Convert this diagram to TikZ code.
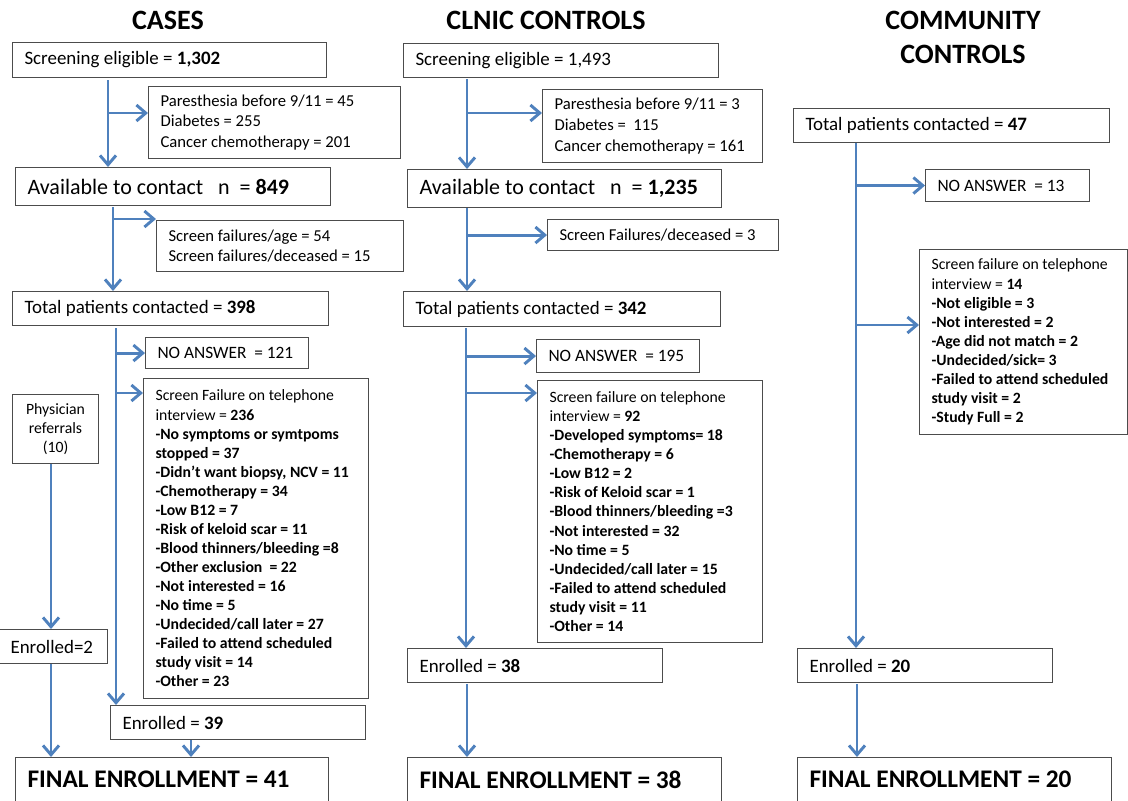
\documentclass[tikz,border=0pt]{standalone}
\usepackage{fontspec}
\setmainfont{Carlito}
\usetikzlibrary{arrows.meta}
\definecolor{flowblue}{RGB}{79,129,189}

\tikzset{
  box/.style={draw=black!70, line width=0.8pt, anchor=north west, inner xsep=9pt, inner ysep=0pt, align=left,
    execute at begin node={\spaceskip=0pt\xspaceskip=0pt}},
  sz/.style 2 args={minimum width=#1*0.75pt, minimum height=#2*0.75pt, text width=#1*0.75pt-18pt},
  flow/.style={flowblue, line width=2.2pt, -{Straight Barb[length=7pt,width=12pt]}},
  head/.style={font=\fontsize{21}{25.5}\selectfont\bfseries, align=center},
  big/.style={font=\fontsize{14.2}{17}\selectfont},
  avail/.style={font=\fontsize{16.5}{20}\selectfont},
  final/.style={font=\fontsize{19}{23}\selectfont\bfseries},
  noans/.style={font=\fontsize{13}{16}\selectfont},
  mid/.style={font=\fontsize{12.5}{15.4}\selectfont},
  list/.style={font=\fontsize{11.8}{14.3}\selectfont}
}

\begin{document}
\begin{tikzpicture}[x=0.75pt, y=-0.75pt]
    \useasboundingbox (0,0) rectangle (1128,800);

    % Column titles
    \node[head] (hCases) at (168,20) {CASES};
    \node[head] (hClinic) at (546,20) {CLNIC CONTROLS};
    \node[head] (hComm) at (963,37) {COMMUNITY\\CONTROLS};

    % Cases column
    \node[box, big, sz={314}{35}] (cSE) at (12,42) {Screening eligible = \textbf{1,302}};
    \node[box, mid, sz={252}{72}] (cPA) at (148,86) {Paresthesia before 9/11 = 45\\Diabetes = 255\\Cancer chemotherapy = 201};
    \node[box, avail, sz={315}{38}] (cAV) at (15,167) {Available to contact~~~n~~= \textbf{849}};
    \node[box, mid, sz={247}{51}] (cSF1) at (156,220) {Screen failures/age = 54\\Screen failures/deceased = 15};
    \node[box, big, sz={316}{34}] (cTP) at (12,291) {Total patients contacted = \textbf{398}};
    \node[box, noans, sz={163}{31}] (cNA) at (145,337) {NO ANSWER~~= 121};
    \node[box, list, sz={225}{320}] (cSF2) at (143,378) {Screen Failure on telephone\\interview = \textbf{236}\\{\bfseries
      -No symptoms or symtpoms\\stopped = 37\\-Didn’t want biopsy, NCV = 11\\-Chemotherapy = 34\\-Low B12 = 7\\-Risk of keloid scar = 11\\-Blood thinners/bleeding =8\\-Other exclusion~~= 22\\-Not interested = 16\\-No time = 5\\-Undecided/call later = 27\\-Failed to attend scheduled\\study visit = 14\\-Other = 23}};
    \node[box, list, sz={86}{69}, align=center] (cPR) at (12,394) {Physician\\referrals\\(10)};
    \node[box, big, sz={109}{34}] (cE2) at (-2,629) {Enrolled=2};
    \node[box, big, sz={255}{34}] (cE39) at (110,705) {Enrolled = \textbf{39}};
    \node[box, final, sz={313}{44}] (cFE) at (15,757) {FINAL ENROLLMENT = 41};

    % Cases arrows
    \coordinate (c1) at (108,80);
    \coordinate (c1b) at (108,113);
    \draw[flow] (c1) -- (c1 |- cAV.north);
    \draw[flow] (c1b) -- (c1b -| cPA.west);
    \coordinate (c2) at (113,207);
    \coordinate (c2b) at (113,219);
    \draw[flow] (c2) -- (c2 |- cTP.north);
    \draw[flow] (c2b) -- (c2b -| cSF1.west);
    \coordinate (c3) at (116,328);
    \coordinate (c3b) at (116,393);
    \draw[flow] (c3) -- (c3 |- cE39.north);
    \draw[flow] (c3 |- cNA.west) -- (cNA.west);
    \draw[flow] (c3b) -- (c3b -| cSF2.west);
    \coordinate (c4) at (51,464);
    \draw[flow] (c4) -- (c4 |- cE2.north);
    \draw[flow] (c4 |- cE2.south) -- (c4 |- cFE.north);
    \coordinate (c5) at (191,740);
    \draw[flow] (c5) -- (c5 |- cFE.north);

    % Clinic controls column
    \node[box, big, sz={315}{34}] (kSE) at (403,43) {Screening eligible = 1,493};
    \node[box, mid, sz={220}{73}] (kPA) at (542,89) {Paresthesia before 9/11 = 3\\Diabetes =~~115\\Cancer chemotherapy = 161};
    \node[box, avail, sz={314}{38}] (kAV) at (407,169) {Available to contact~~~n~~= \textbf{1,235}};
    \node[box, mid, sz={231}{31}] (kSF1) at (547,219) {Screen Failures/deceased = 3};
    \node[box, big, sz={317}{35}] (kTP) at (403,291) {Total patients contacted = \textbf{342}};
    \node[box, noans, sz={163}{33}] (kNA) at (536,339) {NO ANSWER~~= 195};
    \node[box, list, sz={225}{262}] (kSF2) at (537,380) {Screen failure on telephone\\interview = \textbf{92}\\{\bfseries
      -Developed symptoms= 18\\-Chemotherapy = 6\\-Low B12 = 2\\-Risk of Keloid scar = 1\\-Blood thinners/bleeding =3\\-Not interested = 32\\-No time = 5\\-Undecided/call later = 15\\-Failed to attend scheduled\\study visit = 11\\-Other = 14}};
    \node[box, big, sz={255}{34}] (kE) at (407,648) {Enrolled = \textbf{38}};
    \node[box, final, sz={314}{44}] (kFE) at (407,757) {FINAL ENROLLMENT = 38};

    % Clinic controls arrows
    \coordinate (k1) at (467,79);
    \coordinate (k1b) at (467,113);
    \draw[flow] (k1) -- (k1 |- kAV.north);
    \draw[flow] (k1b) -- (k1b -| kPA.west);
    \coordinate (k2) at (467,208);
    \draw[flow] (k2) -- (k2 |- kTP.north);
    \draw[flow] (k2 |- kSF1.west) -- (kSF1.west);
    \coordinate (k3) at (466,328);
    \coordinate (k3b) at (466,393);
    \draw[flow] (k3) -- (k3 |- kE.north);
    \draw[flow] (k3 |- kNA.west) -- (kNA.west);
    \draw[flow] (k3b) -- (k3b -| kSF2.west);
    \coordinate (k4) at (467,684);
    \draw[flow] (k4) -- (k4 |- kFE.north);

    % Community controls column
    \node[box, big, sz={316}{34}] (mTP) at (793,108) {Total patients contacted = \textbf{47}};
    \node[box, noans, sz={164}{32}] (mNA) at (925,169) {NO ANSWER~~= 13};
    \node[box, list, sz={208}{185}] (mSF) at (919,249) {Screen failure on telephone\\interview = \textbf{14}\\{\bfseries
      -Not eligible = 3\\-Not interested = 2\\-Age did not match = 2\\-Undecided/sick= 3\\-Failed to attend scheduled\\study visit = 2\\-Study Full = 2}};
    \node[box, big, sz={255}{34}] (mE) at (797,648) {Enrolled = \textbf{20}};
    \node[box, final, sz={314}{44}] (mFE) at (797,757) {FINAL ENROLLMENT = 20};

    % Community controls arrows
    \coordinate (m1) at (856,143);
    \coordinate (m1b) at (856,325);
    \draw[flow] (m1) -- (m1 |- mE.north);
    \draw[flow] (m1 |- mNA.west) -- (mNA.west);
    \draw[flow] (m1b) -- (m1b -| mSF.west);
    \coordinate (m2) at (857,684);
    \draw[flow] (m2) -- (m2 |- mFE.north);
\end{tikzpicture}
\end{document}
